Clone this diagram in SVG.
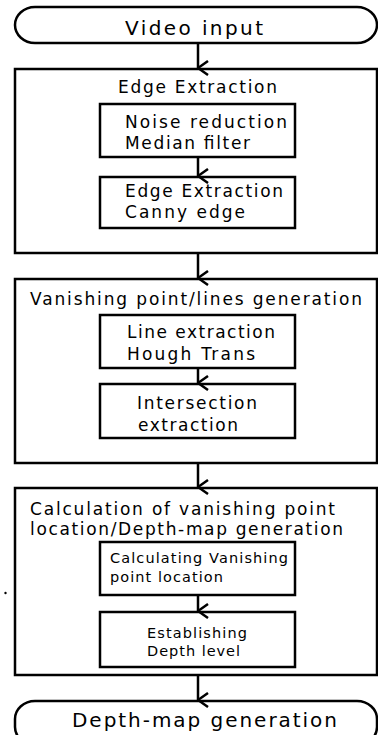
<svg xmlns="http://www.w3.org/2000/svg" width="378" height="735" viewBox="0 0 378 735">
<defs>
<style>
.box{fill:#fff;stroke:#000;stroke-width:2.5}
.t{font-family:"DejaVu Sans","Noto Sans",sans-serif;fill:#000}
.big{font-size:20px}
.mid{font-size:17px}
.sm{font-size:14.5px}
.conn{stroke:#000;stroke-width:2.5;fill:none}
</style>
<marker id="ah" viewBox="0 0 16 12" refX="8" refY="11" markerWidth="16" markerHeight="12" markerUnits="userSpaceOnUse" orient="auto-start-reverse">
<path d="M1,1 L8,11 L15,1" fill="none" stroke="#000" stroke-width="2.5"/>
</marker>
</defs>
<rect width="378" height="735" fill="#fff"/>

<g id="video-input">
<rect class="box" x="15" y="7" width="362" height="36" rx="20" ry="18"/>
<text class="t big" x="125" y="35" textLength="138" lengthAdjust="spacing">Video input</text>
</g>

<g id="edge-extraction-group">
<rect class="box" x="15" y="69" width="362" height="184"/>
<text class="t mid" x="118" y="93" textLength="159" lengthAdjust="spacing">Edge Extraction</text>
</g>
<g id="noise-reduction">
<rect class="box" x="100" y="104" width="195" height="53"/>
<text class="t mid" x="125" y="128" textLength="162" lengthAdjust="spacing">Noise reduction</text>
<text class="t mid" x="125" y="149" textLength="125" lengthAdjust="spacing">Median filter</text>
</g>
<g id="canny-edge">
<rect class="box" x="100" y="177" width="195" height="51"/>
<text class="t mid" x="125" y="197" textLength="158" lengthAdjust="spacing">Edge Extraction</text>
<text class="t mid" x="125" y="218" textLength="120" lengthAdjust="spacing">Canny edge</text>
</g>

<g id="vanishing-group">
<rect class="box" x="15" y="279" width="362" height="184"/>
<text class="t mid" x="30" y="305" textLength="332" lengthAdjust="spacing">Vanishing point/lines generation</text>
</g>
<g id="line-extraction">
<rect class="box" x="100" y="315" width="195" height="53"/>
<text class="t mid" x="127" y="338" textLength="148" lengthAdjust="spacing">Line extraction</text>
<text class="t mid" x="127" y="360" textLength="128" lengthAdjust="spacing">Hough Trans</text>
</g>
<g id="intersection">
<rect class="box" x="100" y="384" width="195" height="54"/>
<text class="t mid" x="137" y="409" textLength="120" lengthAdjust="spacing">Intersection</text>
<text class="t mid" x="138" y="431" textLength="100" lengthAdjust="spacing">extraction</text>
</g>

<g id="calculation-group">
<rect class="box" x="15" y="488" width="362" height="187"/>
<text class="t mid" x="30" y="515" textLength="305" lengthAdjust="spacing">Calculation of vanishing point</text>
<text class="t mid" x="30" y="535" textLength="313" lengthAdjust="spacing">location/Depth-map generation</text>
</g>
<g id="calc-vp">
<rect class="box" x="100" y="542" width="195" height="53"/>
<text class="t sm" x="110" y="563" textLength="178" lengthAdjust="spacing">Calculating Vanishing</text>
<text class="t sm" x="110" y="582" textLength="113" lengthAdjust="spacing">point location</text>
</g>
<g id="depth-level">
<rect class="box" x="100" y="612" width="195" height="55"/>
<text class="t sm" x="147" y="638" textLength="100" lengthAdjust="spacing">Establishing</text>
<text class="t sm" x="147" y="656" textLength="93" lengthAdjust="spacing">Depth level</text>
</g>

<g id="depth-map">
<rect class="box" x="15" y="701" width="362" height="44" rx="20" ry="18"/>
<text class="t big" x="72" y="727" textLength="265" lengthAdjust="spacing">Depth-map generation</text>
</g>

<g id="connectors">
<line class="conn" x1="198" y1="43" x2="198" y2="68" marker-end="url(#ah)"/>
<line class="conn" x1="198" y1="157" x2="198" y2="176" marker-end="url(#ah)"/>
<line class="conn" x1="198" y1="253" x2="198" y2="278" marker-end="url(#ah)"/>
<line class="conn" x1="198" y1="368" x2="198" y2="383" marker-end="url(#ah)"/>
<line class="conn" x1="198" y1="463" x2="198" y2="487" marker-end="url(#ah)"/>
<line class="conn" x1="198" y1="595" x2="198" y2="611" marker-end="url(#ah)"/>
<line class="conn" x1="198" y1="675" x2="198" y2="700" marker-end="url(#ah)"/>
</g>
<circle cx="5.5" cy="593" r="1.2" fill="#000"/>
</svg>
